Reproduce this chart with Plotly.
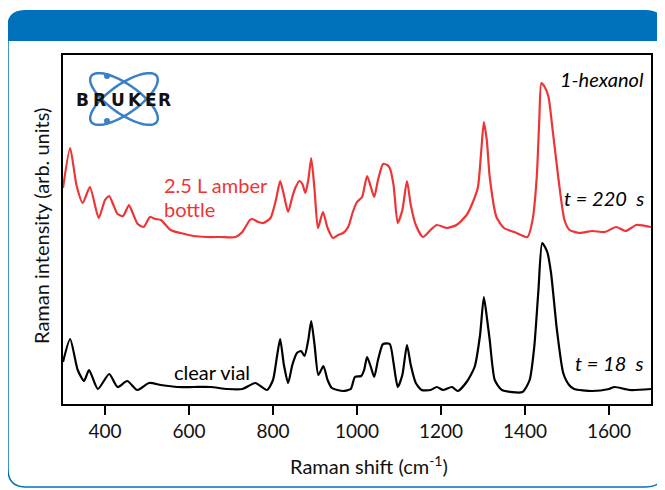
import numpy as np
import plotly.graph_objects as go

# ---------------- data (Raman shift in cm-1, intensity in arb. units) ----------------
amber_shift = [300, 317, 332, 347, 364, 385, 400, 410, 420, 430, 443, 457, 466, 478, 492, 507, 520, 533,
               556, 580, 611, 640, 675, 711, 727, 745, 751, 765, 777, 794, 807, 817, 826, 836, 846, 853,
               863, 870, 877, 884, 891, 899, 907, 919, 930, 943, 955, 967, 979, 990, 1000, 1012, 1024,
               1033, 1041, 1050, 1062, 1072, 1078, 1087, 1097, 1108, 1119, 1128, 1140, 1157, 1175, 1190,
               1214, 1237, 1261, 1276, 1288, 1296, 1302, 1309, 1316, 1332, 1350, 1380, 1406, 1418, 1428,
               1434, 1439, 1447, 1456, 1465, 1480, 1494, 1506, 1530, 1560, 1590, 1617, 1640, 1665, 1700]
amber_int = [216, 256, 219, 201, 217, 186, 204, 208, 199, 190, 188, 199, 191, 180, 177, 187, 185, 184,
             174, 171, 168, 167, 167, 167, 172, 184, 185, 182, 181, 186, 204, 223, 209, 192, 207, 216,
             223, 220, 211, 224, 246, 214, 176, 192, 176, 166, 169, 171, 177, 192, 202, 207, 228,
             217, 207, 224, 240, 239, 236, 219, 181, 194, 223, 199, 179, 167, 174, 179,
             176, 179, 189, 202, 217, 254, 282, 264, 227, 187, 176, 171, 167, 184, 227,
             284, 321, 317, 307, 277, 224, 184, 174, 171, 173, 172, 177, 173, 179, 177]

clear_shift = [300, 317, 335, 350, 362, 383, 410, 430, 453, 477, 505, 533, 572, 611, 651, 691, 727, 758,
               786, 800, 810, 817, 826, 836, 846, 857, 867, 875, 884, 891, 899, 908, 920, 930, 940, 967,
               985, 995, 1010, 1017, 1024, 1033, 1041, 1050, 1062, 1078, 1087, 1097, 1108, 1119, 1128,
               1140, 1154, 1175, 1190, 1205, 1226, 1240, 1261, 1280, 1293, 1302, 1310, 1316, 1328, 1345,
               1394, 1411, 1422, 1432, 1441, 1453, 1462, 1476, 1491, 1505, 1517, 1560, 1600, 1613, 1650, 1700]
clear_int = [42, 65, 34, 23, 34, 15, 30, 17, 23, 14, 21, 19, 17, 17, 17, 15, 15, 21,
             14, 24, 49, 65, 39, 21, 39, 51, 53, 48, 64, 83, 59, 29, 38, 24, 16, 13,
             15, 27, 28, 34, 47, 37, 27, 44, 60, 60, 41, 17, 29, 59, 39,
             21, 14, 14, 17, 14, 17, 13, 22, 37, 69, 107, 84, 64, 24, 14,
             12, 24, 57, 114, 161, 152, 131, 74, 31, 19, 15, 13, 15, 17, 14, 15]

x_ticks = [400, 600, 800, 1000, 1200, 1400, 1600]

# ---------------- geometry helpers (screen pixel -> paper) ----------------
W, H = 665, 490
OFF = 8                       # page offset of the figure inside the browser window
SL, SR, ST, SB = 63, 651, 55, 404   # plot frame in screen pixels
L, T = SL - OFF, ST - OFF
R = W - (SR - OFF)
B = H - (SB - OFF)
PW, PH = SR - SL, SB - ST


def px(x):
    return (x - SL) / PW


def py(y):
    return (SB - y) / PH


RED = "#EE3535"
BLUE = "#0071BC"
LOGO_BLUE = "#3A80C6"
FONT = "Lato"

fig = go.Figure()
fig.add_trace(go.Scatter(x=amber_shift, y=amber_int, mode="lines",
                         line=dict(color=RED, width=2.2, shape="spline", smoothing=0.6),
                         hoverinfo="skip", showlegend=False))
fig.add_trace(go.Scatter(x=clear_shift, y=clear_int, mode="lines",
                         line=dict(color="#000000", width=2.2, shape="spline", smoothing=0.6),
                         hoverinfo="skip", showlegend=False))

shapes = []
r = 18
hdr = (f"M {px(7)},{py(41)} L {px(7)},{py(10 + r)} Q {px(7)},{py(10)} {px(7 + r)},{py(10)} "
       f"L {px(664 - r)},{py(10)} Q {px(664)},{py(10)} {px(664)},{py(10 + r)} L {px(664)},{py(41)} Z")
shapes.append(dict(type="path", xref="paper", yref="paper", path=hdr,
                   fillcolor=BLUE, line=dict(width=0), layer="below"))
outline = (f"M {px(8)},{py(30)} L {px(8)},{py(487 - r)} Q {px(8)},{py(487)} {px(8 + r)},{py(487)} "
           f"L {px(664 - r)},{py(487)} Q {px(664)},{py(487)} {px(664)},{py(487 - r)} L {px(664)},{py(30)}")
shapes.append(dict(type="path", xref="paper", yref="paper", path=outline,
                   line=dict(color=BLUE, width=1.5), layer="below"))

# logo orbits
cx, cy, a, b = 124, 99, 40, 14.6
t = np.linspace(0, 2 * np.pi, 90)
for ang in (35, -35):
    th = np.radians(ang)
    xs = cx + a * np.cos(t) * np.cos(th) - b * np.sin(t) * np.sin(th)
    ys = cy + a * np.cos(t) * np.sin(th) + b * np.sin(t) * np.cos(th)
    path = "M " + " L ".join(f"{px(xx):.5f},{py(yy):.5f}" for xx, yy in zip(xs, ys)) + " Z"
    shapes.append(dict(type="path", xref="paper", yref="paper", path=path,
                       line=dict(color=LOGO_BLUE, width=2.5)))
for dy in (76, 121):
    shapes.append(dict(type="circle", xref="paper", yref="paper",
                       x0=px(104), x1=px(110), y0=py(dy + 3), y1=py(dy - 3),
                       fillcolor=LOGO_BLUE, line=dict(color=LOGO_BLUE, width=0)))

annotations = []
for ch, cxp in zip("BRUKER", [82.5, 99.5, 117.5, 134.5, 150.5, 164.5]):
    annotations.append(dict(x=px(cxp), y=py(100), xref="paper", yref="paper", text=f"<b>{ch}</b>",
                            showarrow=False, xanchor="center", yanchor="middle",
                            font=dict(family="DejaVu Sans", size=17, color="#111111")))


def ann(text, x, y, anchor="left", color="black", size=20, italic=False):
    annotations.append(dict(x=px(x), y=py(y), xref="paper", yref="paper", text=text,
                            showarrow=False, xanchor=anchor, yanchor="middle",
                            font=dict(family=FONT, size=size, color=color,
                                      style="italic" if italic else "normal")))


ann("1-hexanol", 646, 79, anchor="right", italic=True)
ann("t = 220  s", 646, 198, anchor="right", italic=True)
ann("t = 18  s", 646, 363, anchor="right", italic=True)
ann("2.5 L amber", 162, 185, color=RED)
ann("bottle", 162, 209, color=RED)
ann("clear vial", 172, 372)

# axis titles
annotations.append(dict(x=px(369), y=py(465), xref="paper", yref="paper",
                        text="Raman shift (cm<sup>-1</sup>)", showarrow=False,
                        xanchor="center", yanchor="middle",
                        font=dict(family=FONT, size=20, color="#111111")))
annotations.append(dict(x=px(41), y=py(226), xref="paper", yref="paper",
                        text="Raman intensity (arb. units)", showarrow=False, textangle=-90,
                        xanchor="center", yanchor="middle",
                        font=dict(family=FONT, size=20, color="#111111")))

fig.update_layout(
    width=W, height=H,
    margin=dict(l=L, r=R, t=T, b=B, autoexpand=False),
    paper_bgcolor="white", plot_bgcolor="white",
    shapes=shapes, annotations=annotations,
    xaxis=dict(range=[300, 1700], tickvals=x_ticks, ticks="outside", ticklen=9, tickwidth=2,
               tickcolor="black", showline=True, linewidth=2, linecolor="black", mirror=True,
               showgrid=False, zeroline=False,
               tickfont=dict(family=FONT, size=19, color="#111111")),
    yaxis=dict(range=[0, PH], showticklabels=False, ticks="", showline=True, linewidth=2,
               linecolor="black", mirror=True, showgrid=False, zeroline=False),
)

fig.write_html("out.html")
